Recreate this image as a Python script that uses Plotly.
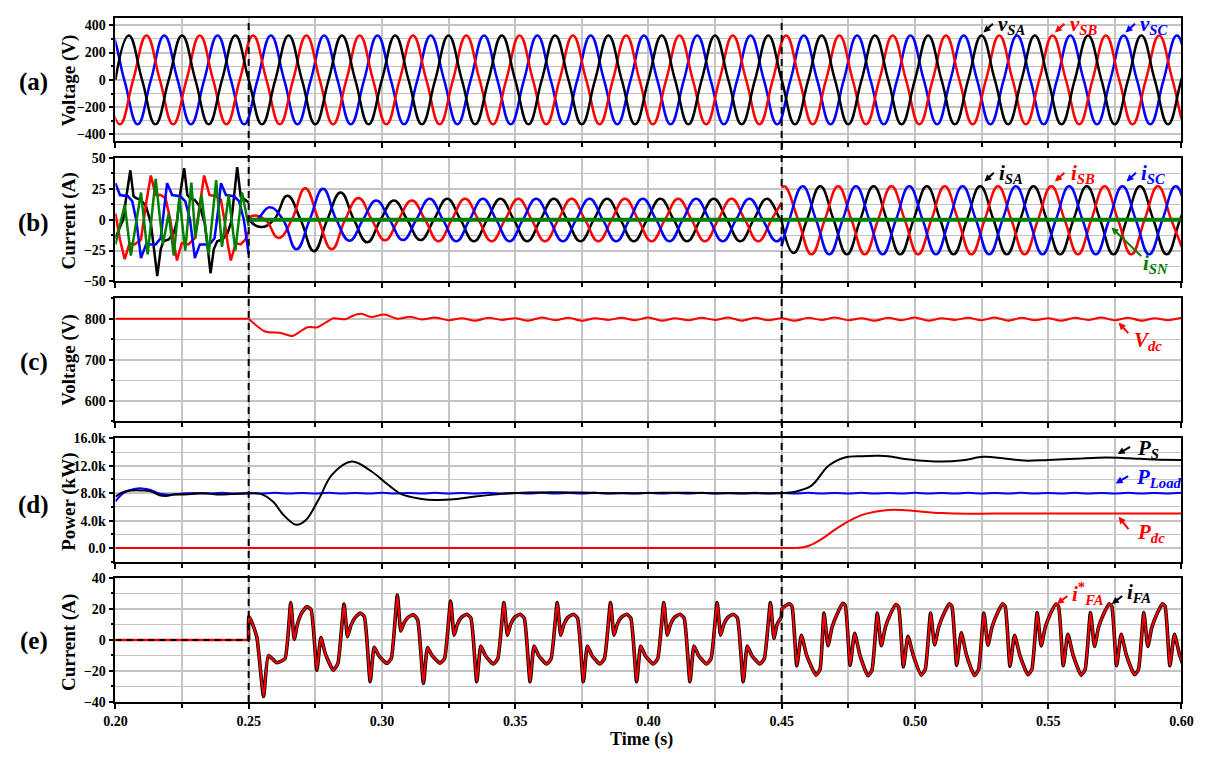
import numpy as np
import plotly.graph_objects as go

W, H = 1212, 758
Q = 0.005  # quarter period of the 50 Hz grid (s)

def grid(t0, n, step=Q):
    return list(t0 + step * np.arange(n))

# ---------------- (a) source voltages (quarter-period samples) ----------------
va_t0, vb_t0, vc_t0 = 0.2, 0.19667, 0.19333
va = [0, 325, 0, -325, 0, 325, 0, -325, 0, 325, 0, -325, 0, 325, 0, -325, 0, 325, 0, -325,
      0, 325, 0, -325, 0, 325, 0, -325, 0, 325, 0, -325, 0, 325, 0, -325, 0, 325, 0, -325,
      0, 325, 0, -325, 0, 325, 0, -325, 0, 325, 0, -325, 0, 325, 0, -325, 0, 325, 0, -325,
      0, 325, 0, -325, 0, 325, 0, -325, 0, 325, 0, -325, 0, 325, 0, -325, 0, 325, 0, -325,
      0, 325, 0, -325]
vb = [0, -325, 0, 325, 0, -325, 0, 325, 0, -325, 0, 325, 0, -325, 0, 325, 0, -325, 0, 325,
      0, -325, 0, 325, 0, -325, 0, 325, 0, -325, 0, 325, 0, -325, 0, 325, 0, -325, 0, 325,
      0, -325, 0, 325, 0, -325, 0, 325, 0, -325, 0, 325, 0, -325, 0, 325, 0, -325, 0, 325,
      0, -325, 0, 325, 0, -325, 0, 325, 0, -325, 0, 325, 0, -325, 0, 325, 0, -325, 0, 325,
      0, -325, 0, 325]
vc = [0, 325, 0, -325, 0, 325, 0, -325, 0, 325, 0, -325, 0, 325, 0, -325, 0, 325, 0, -325,
      0, 325, 0, -325, 0, 325, 0, -325, 0, 325, 0, -325, 0, 325, 0, -325, 0, 325, 0, -325,
      0, 325, 0, -325, 0, 325, 0, -325, 0, 325, 0, -325, 0, 325, 0, -325, 0, 325, 0, -325,
      0, 325, 0, -325, 0, 325, 0, -325, 0, 325, 0, -325, 0, 325, 0, -325, 0, 325, 0, -325,
      0, 325, 0, -325]

# ---------------- (b) source currents ----------------
# before compensation (0.20-0.25 s): distorted load currents
isa_l_t = [0.2, 0.2014, 0.2029, 0.2041, 0.2056, 0.2068, 0.2078, 0.2096, 0.2115, 0.2133, 0.2148, 0.2157,
           0.2170, 0.2180, 0.2200, 0.2219, 0.2231, 0.2243, 0.2258, 0.2270, 0.2280, 0.2298, 0.2317, 0.2335,
           0.2347, 0.2357, 0.2369, 0.2382, 0.2402, 0.2421, 0.2435, 0.2445, 0.2457, 0.2470, 0.2480, 0.2497, 0.25]
isa_l = [-14.8, -8, 0, 18.8, 40, 19, 17.5, 16, 10.8, -2.7, -27, -45.7, -24, -17.5, -16, -10.8, -1.3, 21,
         41.7, 20, 17.5, 16, 10.8, -2.7, -24, -43.5, -24, -17.5, -16, -10.8, -1.3, 21, 42.5, 19, 17.5, 14.8, 14]
isb_l_t = [0.2, 0.2017, 0.2035, 0.2053, 0.2072, 0.2096, 0.2115, 0.2133, 0.2151, 0.2170, 0.2188, 0.2206,
           0.2219, 0.2231, 0.2249, 0.2274, 0.2298, 0.2317, 0.2333, 0.2353, 0.2378, 0.2396, 0.2409, 0.2421,
           0.2433, 0.2452, 0.2470, 0.2488, 0.25]
isb_l = [5, -16, -32, -19, -20, -16, 13, 35.8, 20, 20, 17.5, 0, -19, -33, -19, -20, -15, 15, 35.8, 20,
         19, 16, 0, -19, -33, -19, -20, -16, -10]
isc_l_t = [0.2, 0.2017, 0.2047, 0.2063, 0.2078, 0.2096, 0.2115, 0.2151, 0.2170, 0.2182, 0.2194, 0.2213,
           0.2243, 0.2262, 0.2280, 0.2298, 0.2317, 0.2353, 0.2372, 0.2384, 0.2396, 0.2415, 0.2445, 0.2464,
           0.2482, 0.25]
isc_l = [29.6, 20, 19, 15, 0, -31, -20, -20, -15, 5, 29.6, 20, 19, 15, 0, -31, -20, -20, -15, 5, 29.6,
         20, 19, 15, 0, -28]
isn_l_t = [0.2, 0.2035, 0.2058, 0.2096, 0.2121, 0.2151, 0.2178, 0.2200, 0.2219, 0.2240, 0.2262, 0.2285,
           0.2300, 0.2323, 0.2350, 0.2378, 0.2400, 0.2425, 0.2450, 0.2475, 0.25]
isn_l = [-20, 12, -29, 22, -28, 33, -20, 5, -29, 18, -25, 30, -15, 20, -28, 32, -22, 20, -25, 22, -5]

# after compensation: quarter-period samples, 0.25-0.45 s and 0.45-0.60 s
isa_m_t0, isa_p_t0 = 0.2545, 0.4545
isa_m = [0, -6, 0, 19.4, 0, -25.5, 0, 22, 0, -18.3, 0, 15.6, 0, -16.5,
         0, 17, 0, -17.5, 0, 17, 0, -17.5, 0, 17, 0, -17.5, 0, 17, 0, -17.5, 0, 17, 0, -17.5, 0, 17, 0, -17.5,
         0, 17, 0, -1]
isa_p = [-1, -27, 0, 27, 0, -28, 0, 27, 0, -28, 0, 27, 0, -28, 0, 27, 0, -28, 0, 27, 0, -28, 0, 27, 0,
         -28, 0, 27, 0, -28, 0, 27]
isb_m_t0, isb_p_t0 = 0.2512, 0.4512
isb_m = [0, 3, 0, -14.8, 0, 25.5, 0, -24, 0, 17.5, 0, -16.7, 0, 15.5, 0, -17.5,
         0, 17, 0, -17.5, 0, 17, 0, -17.5, 0, 17, 0, -17.5, 0, 17, 0, -17.5, 0, 17, 0, -17.5, 0, 17, 0, -17.5,
         0, 14]
isb_p = [26, 27, 0, -28, 0, 27, 0, -28, 0, 27, 0, -28, 0, 27, 0, -28, 0, 27, 0, -28, 0, 27, 0, -28, 0,
         27, 0, -28, 0, 27, 0, -28]
isc_m_t0, isc_p_t0 = 0.2529, 0.4529
isc_m = [0, 0, 10, 0, -24, 0, 25, 0, -17, 0, 15.5, 0, -16.5, 0,
         17, 0, -17.5, 0, 17, 0, -17.5, 0, 17, 0, -17.5, 0, 17, 0, -17.5, 0, 17, 0, -17.5, 0, 17, 0, -17.5, 0,
         17, 0, -17.5, -14]
isc_p = [-21.5, 0, 27, 0, -28, 0, 27, 0, -28, 0, 27, 0, -28, 0, 27, 0, -28, 0, 27, 0, -28, 0, 27, 0, -28,
         0, 27, 0, -28, 0, 27, 0, -28]
isn_r_t = [0.25, 0.6]
isn_r = [0, 0]

# ---------------- (c) dc-link voltage ----------------
vdc_flat_t = [0.2, 0.25]
vdc_flat = [800, 800]
vdc_t = [0.25, 0.2562, 0.2617, 0.2664, 0.269, 0.2721, 0.2758, 0.2789, 0.2819, 0.2862, 0.2887,
         0.2923, 0.296, 0.3009, 0.3058, 0.3107, 0.315]
vdc = [800, 768.7, 765.6, 757.8, 767, 779, 779, 790.6, 800.8, 798.4, 806, 811.7, 804, 810, 800,
       804.7, 798]
vdc_r_t0 = 0.32
vdc_r = [803, 796, 801, 795, 802, 797, 801, 795, 803, 796, 802, 795, 801, 797, 802, 796, 803, 795, 801,
         796, 802, 797, 803, 795, 802, 796, 801, 795, 802, 797, 803, 796, 801, 795, 802, 796, 803, 795,
         801, 797, 802, 796, 803, 795, 802, 796, 801, 795, 802, 797, 803, 796, 802, 795, 801, 796, 802]

# ---------------- (d) powers ----------------
ps_t = [0.2, 0.203, 0.206, 0.21, 0.213, 0.2165, 0.219, 0.222, 0.226, 0.23, 0.234, 0.238, 0.242, 0.246,
        0.25, 0.2545, 0.2593, 0.2629, 0.2678, 0.2715, 0.2764, 0.2813, 0.2887, 0.296, 0.3021, 0.3071,
        0.3144, 0.32, 0.327, 0.335, 0.345, 0.355, 0.365, 0.375, 0.385, 0.395, 0.405, 0.415, 0.425, 0.435,
        0.445, 0.45, 0.455, 0.4612, 0.4676, 0.4737, 0.48, 0.4859, 0.49, 0.498, 0.5104, 0.518, 0.5257,
        0.533, 0.541, 0.55, 0.56, 0.5716, 0.58, 0.59, 0.6]
ps = [7500, 8200, 8400, 8400, 8300, 7700, 7600, 7800, 7800, 7900, 8000, 7800, 7850, 7900,
      7950, 7900, 6700, 4900, 3400, 4100, 7200, 10700, 12600, 11200, 9300, 7900,
      7200, 7000, 7100, 7500, 7900, 8100, 8150, 8100, 8000, 8000, 8050, 8050, 8000, 8000,
      8000, 8000, 8200, 9100, 12000, 13200, 13400, 13450, 13400, 12900, 12600, 12800, 13300,
      13100, 12750, 12850, 13000, 13200, 13100, 12900, 12850]
pl_t = [0.2, 0.203, 0.207, 0.21, 0.213, 0.216, 0.219, 0.223]
pl = [6800, 8000, 8600, 8700, 8500, 8000, 7800, 7850]
pl_r_t0 = 0.225
pl_r = [7950, 8040, 7960, 8050, 7950, 8040, 7960, 8050, 7950, 8040, 7960, 8050, 7950, 8040, 7960, 8050,
        7950, 8040, 7960, 8050, 7950, 8040, 7960, 8050, 7950, 8040, 7960, 8050, 7950, 8040, 7960, 8050,
        7950, 8040, 7960, 8050, 7950, 8040, 7960, 8050, 7950, 8040, 7960, 8050, 7950, 8040, 7960, 8050,
        7950, 8040, 7960, 8050, 7950, 8040, 7960, 8050, 7950, 8040, 7960, 8050, 7950, 8040, 7960, 8050,
        7950, 8040, 7960, 8050, 7950, 8040, 7960, 8050, 7950, 8040, 7960, 8050]
pdc_flat_t = [0.2, 0.4551]
pdc_flat = [0, 0]
pdc_t = [0.4551, 0.4575, 0.46, 0.465, 0.47, 0.475, 0.48, 0.485, 0.49, 0.495, 0.5, 0.51, 0.52, 0.53, 0.6]
pdc = [0, 80, 300, 1300, 2700, 3900, 4800, 5300, 5550, 5550, 5400, 5100, 5000, 5050, 5050]

# ---------------- (e) filter current (reference and actual overlap) ----------------
fa_flat_t = [0.2, 0.25]
fa_flat = [0, 0]
fa_start_t = [0.25, 0.2501, 0.2515, 0.2531, 0.2556, 0.2574, 0.2605, 0.2636]
fa_start = [0, 15, 10, 1.5, -36.4, -10.1, -14.7, -12.2]
fa_pre_tp0 = 0.2658
fa_pre_off = [0.0, 0.0013, 0.0025, 0.0040, 0.0060, 0.0076, 0.0098, 0.0113, 0.0130, 0.0160, 0.0177]
fa_pre = [
    [24, 0.4, 10, 17, 21.3, 19.5, -19.6, 1.5, -9, -19.5, -15],
    [23, 2, 9, 14, 17.2, 15, -26.9, -4.8, -10, -15.2, -12],
    [28.8, 5.7, 11, 14.5, 16.2, 13, -28, -5, -10, -15, -12],
    [25, 3, 10, 14.5, 16.5, 14, -27, -4, -10, -15.5, -12],
    [24, 3, 10, 14.5, 16.5, 14, -27, -4, -10, -15.5, -12],
    [24, 3, 10, 14.5, 16.5, 14, -27, -4, -10, -15.5, -12],
    [24, 3, 10, 14.5, 16.5, 14, -27, -4, -10, -15.5, -12],
    [24, 3, 10, 14.5, 16.5, 14, -27, -4, -10, -15.5, -12],
    [24, 3, 10, 14.5, 16.5, 14, -27, -4, -10, -15.5, -12],
]
fa_tr_t = [0.4458, 0.4471, 0.4483, 0.4499, 0.4501, 0.4529, 0.4539, 0.4557, 0.4574, 0.4594, 0.4629, 0.4644]
fa_tr = [24, 1, 10, 15, 20, 23.3, 21.5, -16.7, 3, -10, -22.7, -19]
fa_post_tp0 = 0.4659
fa_post_off = [0.0, 0.0015, 0.0030, 0.0050, 0.0070, 0.0080, 0.0098, 0.0115, 0.0135, 0.0165, 0.0180]
fa_post = [
    [17.3, -3.8, 8, 17, 23.6, 22, -16.4, 4.2, -10, -23.1, -19.5],
    [17.3, -3.8, 8, 17, 22.8, 21, -17.3, 2.3, -10, -22.7, -19],
    [17.3, -3.2, 8, 17, 23.3, 21.5, -16.4, 4.6, -10, -23, -19],
    [17.3, -3.5, 8, 17, 23.3, 21.5, -17, 3.0, -10, -22.4, -19],
    [17.6, -3.8, 8, 17, 23, 21.5, -16.7, 3.6, -10, -22.7, -19],
    [17.6, -4.2, 8, 17, 23.3, 21.5, -16.7, 3.6, -10, -22.4, -19],
    [17.6, -4.2, 8, 17, 23.3, 21.5, -16.7, 3.6, -10, -22.4, -19],
]

# ---------------- text ----------------
x_ticks = ["0.20", "0.25", "0.30", "0.35", "0.40", "0.45", "0.50", "0.55", "0.60"]
y_titles = ["Voltage (V)", "Current (A)", "Voltage (V)", "Power (kW)", "Current (A)"]
panel_tags = ["(a)", "(b)", "(c)", "(d)", "(e)"]
d_ticks = [0, 4000, 8000, 12000, 16000]
d_ticktext = ["0.0", "4.0k", "8.0k", "12.0k", "16.0k"]


def cycles(tp0, offs, vals):
    t, v = [], []
    for k, c in enumerate(vals):
        for o, y in zip(offs, c):
            t.append(tp0 + 0.02 * k + o)
            v.append(y)
    return t, v


BLACK, RED, BLUE, GREEN = "#000000", "#ff0000", "#0000ff", "#008000"
fig = go.Figure()


def add(x, y, color, row, width=2.5, shape="linear", smoothing=1.0, dash=None):
    line = dict(color=color, width=width, shape=shape)
    if shape == "spline":
        line["smoothing"] = smoothing
    if dash:
        line["dash"] = dash
    ax = "" if row == 1 else str(row)
    fig.add_trace(go.Scatter(x=x, y=y, mode="lines", line=line, showlegend=False,
                             hoverinfo="skip", xaxis="x" + ax, yaxis="y" + ax))

# (a)
add(grid(vc_t0, len(vc)), vc, BLUE, 1, shape="spline", smoothing=1.3)
add(grid(vb_t0, len(vb)), vb, RED, 1, shape="spline", smoothing=1.3)
add(grid(va_t0, len(va)), va, BLACK, 1, shape="spline", smoothing=1.3)

# (b)
add(isa_l_t, isa_l, BLACK, 2)
add(isb_l_t, isb_l, RED, 2)
add(isc_l_t, isc_l, BLUE, 2)
add(isn_l_t, isn_l, GREEN, 2)
for t0, m, p, col, pt0 in [(isa_m_t0, isa_m, isa_p, BLACK, isa_p_t0),
                           (isb_m_t0, isb_m, isb_p, RED, isb_p_t0),
                           (isc_m_t0, isc_m, isc_p, BLUE, isc_p_t0)]:
    add([0.25] + grid(t0, len(m) - 2) + [0.45], m, col, 2, shape="spline", smoothing=1.3)
    add([0.45] + grid(pt0, len(p) - 1), p, col, 2, shape="spline", smoothing=1.3)
add(isn_r_t, isn_r, GREEN, 2, width=4)

# (c)
add(vdc_flat_t, vdc_flat, RED, 3, width=2)
add(vdc_t + grid(vdc_r_t0, len(vdc_r)), vdc + vdc_r, RED, 3, width=2, shape="spline", smoothing=0.8)

# (d)
add(pdc_flat_t, pdc_flat, RED, 4, width=2)
add(pdc_t, pdc, RED, 4, width=2, shape="spline", smoothing=1.0)
add(pl_t + grid(pl_r_t0, len(pl_r)), pl + pl_r, BLUE, 4, width=2, shape="spline", smoothing=1.0)
add(ps_t, ps, BLACK, 4, width=2, shape="spline", smoothing=1.0)

# (e)
t1, v1 = cycles(fa_pre_tp0, fa_pre_off, fa_pre)
t2, v2 = cycles(fa_post_tp0, fa_post_off, fa_post)
fa_t = fa_start_t + t1 + fa_tr_t + t2
fa_v = fa_start + v1 + fa_tr + v2
add(fa_flat_t, fa_flat, RED, 5, width=2.5)
add(fa_t, fa_v, BLACK, 5, width=3.6, shape="spline", smoothing=0.5)
add(fa_t, fa_v, RED, 5, width=2, shape="spline", smoothing=0.5)
add(fa_flat_t, fa_flat, BLACK, 5, width=2, dash="6px,5px")

# ---------------- layout ----------------
XD = [105.5 / W, 1193 / W]
panels_px = [(11.7, 137), (154, 280), (297, 422.7), (440, 566), (582.3, 709)]
yranges = [[-450, 450], [-50, 50], [550, 850], [-2000, 16000], [-40, 40]]
ydticks = [200, 25, 100, 4000, 20]
yminor = [100, 12.5, 50, 2000, 10]
GRID = "#c4c4c4"
tickfont = dict(family="Liberation Serif", size=14, color="black", weight="bold")

layout = dict(width=W, height=H, margin=dict(l=0, r=0, t=0, b=0), autosize=False,
              paper_bgcolor="white", plot_bgcolor="white", showlegend=False)
for i in range(5):
    s = "" if i == 0 else str(i + 1)
    top, bot = panels_px[i]
    layout["xaxis" + s] = dict(
        domain=XD, range=[0.2, 0.6], anchor="y" + s, tick0=0.2, dtick=0.05,
        ticks="outside", ticklen=5, tickwidth=1.5, tickcolor="black",
        showticklabels=(i == 4), tickvals=[0.2, 0.25, 0.3, 0.35, 0.4, 0.45, 0.5, 0.55, 0.6],
        ticktext=x_ticks, tickfont=tickfont,
        showgrid=True, gridcolor=GRID, gridwidth=2,
        minor=dict(tickmode="linear", tick0=0.2, dtick=0.025, showgrid=True, gridcolor=GRID,
                   gridwidth=1.5, ticks="outside", ticklen=4, tickcolor="black"),
        showline=True, mirror=True, linecolor="black", linewidth=1.5, zeroline=False,
    )
    yax = dict(
        domain=[1 - bot / H, 1 - top / H], range=yranges[i], anchor="x" + s,
        ticks="outside", ticklen=5, tickwidth=1.5, tickcolor="black", tickfont=tickfont,
        showgrid=True, gridcolor=GRID, gridwidth=1.5,
        minor=dict(tickmode="linear", tick0=0, dtick=yminor[i], showgrid=True, gridcolor=GRID,
                   gridwidth=1.2, ticks="outside", ticklen=3, tickcolor="black"),
        showline=True, mirror=True, linecolor="black", linewidth=1.5, zeroline=False,
    )
    if i == 3:
        yax.update(tickmode="array", tickvals=d_ticks, ticktext=d_ticktext)
    else:
        yax.update(tick0=0, dtick=ydticks[i])
    layout["yaxis" + s] = yax
fig.update_layout(**layout)

# dashed event lines
for tx in (0.25, 0.45):
    fig.add_shape(type="line", xref="x5", yref="paper", x0=tx, x1=tx,
                  y0=1 - 709 / H, y1=1 - 11.7 / H, layer="above",
                  line=dict(color="black", width=2, dash="7px,5px"))

SERIF = "Liberation Serif"


def txt(xp, yp, text, size, color="black", angle=0, xanchor="center"):
    fig.add_annotation(x=xp / W, y=1 - yp / H, xref="paper", yref="paper", text=text,
                       showarrow=False, textangle=angle, xanchor=xanchor, yanchor="middle",
                       font=dict(family=SERIF, size=size, color=color))


def arrow(tip, tail, color):
    fig.add_annotation(x=tip[0] / W, y=1 - tip[1] / H, xref="paper", yref="paper", text="",
                       showarrow=True, ax=tail[0] - tip[0], ay=tail[1] - tip[1],
                       arrowhead=2, arrowsize=0.7, arrowwidth=2, arrowcolor=color)

# y titles and panel tags
ytitle_y = [75, 218, 360, 505, 648]
tag_y = [77, 220, 362, 508, 647]
for i in range(5):
    txt(58, ytitle_y[i], "<b>" + y_titles[i] + "</b>", 19, angle=-90)
    txt(22, tag_y[i], "<b>" + panel_tags[i] + "</b>", 25)
txt(642, 747, "<b>Time (s)</b>", 18)

# series labels
labels = [
    ((991, 26), (1002, 16), (1004, 18), "<b><i>v</i><sub><i>SA</i></sub></b>", BLACK),
    ((1064, 26), (1075, 16), (1077, 18), "<b><i>v</i><sub><i>SB</i></sub></b>", RED),
    ((1136, 26), (1147, 16), (1149, 18), "<b><i>v</i><sub><i>SC</i></sub></b>", BLUE),
    ((992, 178), (1003, 168), (1005, 170), "<b><i>i</i><sub><i>SA</i></sub></b>", BLACK),
    ((1064, 178), (1075, 168), (1078, 170), "<b><i>i</i><sub><i>SB</i></sub></b>", RED),
    ((1137, 178), (1148, 168), (1150, 170), "<b><i>i</i><sub><i>SC</i></sub></b>", BLUE),
    ((1121.7, 225), (1153, 255), (1152, 262), "<b><i>i</i><sub><i>SN</i></sub></b>", GREEN),
    ((1129, 322), (1140, 334), (1143, 341), "<b><i>V</i><sub><i>dc</i></sub></b>", RED),
    ((1128, 456), (1142, 448), (1146, 451), "<b><i>P</i><sub><i>S</i></sub></b>", BLACK),
    ((1126, 486), (1140, 478), (1145, 481), "<b><i>P</i><sub><i>Load</i></sub></b>", BLUE),
    ((1129, 520), (1140, 534), (1146, 537), "<b><i>P</i><sub><i>dc</i></sub></b>", RED),
    ((1066, 609), (1078, 600), (1079, 598), "<b><i>i</i><sup>*</sup><sub><i>FA</i></sub></b>", RED),
    ((1122, 609), (1134, 600), (1135, 598), "<b><i>i</i><sub><i>FA</i></sub></b>", BLACK),
]
for tip, tail, pos, text, col in labels:
    arrow(tip, tail, col)
    txt(pos[0], pos[1], text, 21, color=col, xanchor="left")

fig.write_html("out.html")
